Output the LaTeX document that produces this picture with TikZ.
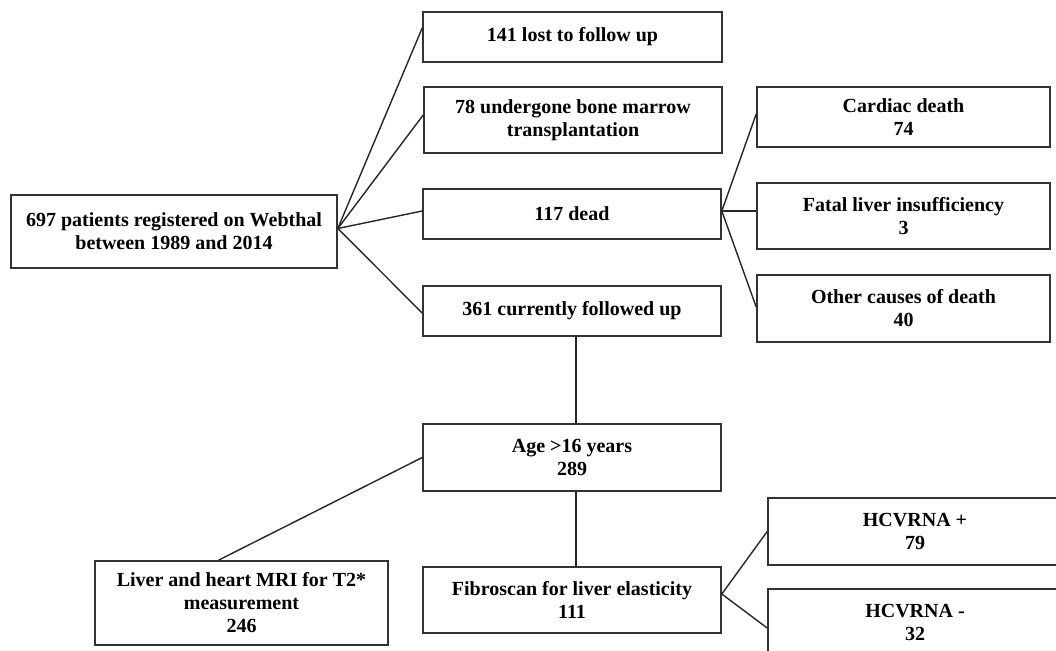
\documentclass[tikz,border=0pt]{standalone}
\usepackage{fontspec}
\setmainfont{Liberation Serif}
\begin{document}
\begin{tikzpicture}[x=1pt,y=-1pt,
  box/.style={draw=black!80, line width=1.6pt, fill=white, rectangle, inner sep=0pt, align=center,
    font=\bfseries\fontsize{20}{23}\selectfont},
  link/.style={draw=black!85, line width=1.4pt}]
\useasboundingbox (0,0) rectangle (1056,650);
\fill[white] (0,0) rectangle (1056,650);
\begin{scope}
\clip (0,0) rectangle (1056,650);
\node[box, minimum width=326pt, minimum height=73pt] (main) at (174,231.5) {697 patients registered on Webthal\\between 1989 and 2014};
\node[box, minimum width=299pt, minimum height=50pt] (n141) at (572.5,37) {141 lost to follow up};
\node[box, minimum width=298pt, minimum height=66pt] (n78) at (573,120) {78 undergone bone marrow\\transplantation};
\node[box, minimum width=298pt, minimum height=50pt] (dead) at (572,214) {117 dead};
\node[box, minimum width=298pt, minimum height=50pt] (n361) at (572,311) {361 currently followed up};
\node[box, minimum width=293pt, minimum height=60pt] (cardiac) at (903.5,117) {Cardiac death\\74};
\node[box, minimum width=293pt, minimum height=66pt] (fatal) at (903.5,216) {Fatal liver insufficiency\\3};
\node[box, minimum width=293pt, minimum height=67pt] (other) at (903.5,308.5) {Other causes of death\\40};
\node[box, minimum width=298pt, minimum height=67pt] (age) at (572,457.5) {Age {>}16 years\\289};
\node[box, minimum width=293pt, minimum height=84pt] (mri) at (241.5,603) {Liver and heart MRI for T2*\\measurement\\246};
\node[box, minimum width=298pt, minimum height=66pt] (fib) at (572,600) {Fibroscan for liver elasticity\\111};
\node[box, minimum width=294pt, minimum height=67pt] (hcvp) at (915,531.5) {HCVRNA +\\79};
\node[box, minimum width=294pt, minimum height=67pt] (hcvm) at (915,622.5) {HCVRNA -\\32};

\draw[link] ([yshift=3pt]main.east) -- ([yshift=9pt]n141.west);
\draw[link] ([yshift=3pt]main.east) -- ([yshift=5pt]n78.west);
\draw[link] ([yshift=3pt]main.east) -- ([yshift=3pt]dead.west);
\draw[link] ([yshift=3pt]main.east) -- ([yshift=-2pt]n361.west);
\draw[link] ([yshift=3pt]dead.east) -- ([yshift=3pt]cardiac.west);
\draw[link] ([yshift=3pt]dead.east) -- ([yshift=5pt]fatal.west);
\draw[link] ([yshift=3pt]dead.east) -- ([yshift=1.5pt]other.west);
\draw[link] ([xshift=4pt]n361.south) -- ([xshift=4pt]age.north);
\draw[link] ([xshift=4pt]age.south) -- ([xshift=4pt]fib.north);
\draw[link] (age.west) -- ([xshift=-23pt]mri.north);
\draw[link] ([yshift=6pt]fib.east) -- (hcvp.west);
\draw[link] ([yshift=6pt]fib.east) -- ([yshift=-5.5pt]hcvm.west);
\end{scope}
\end{tikzpicture}
\end{document}
